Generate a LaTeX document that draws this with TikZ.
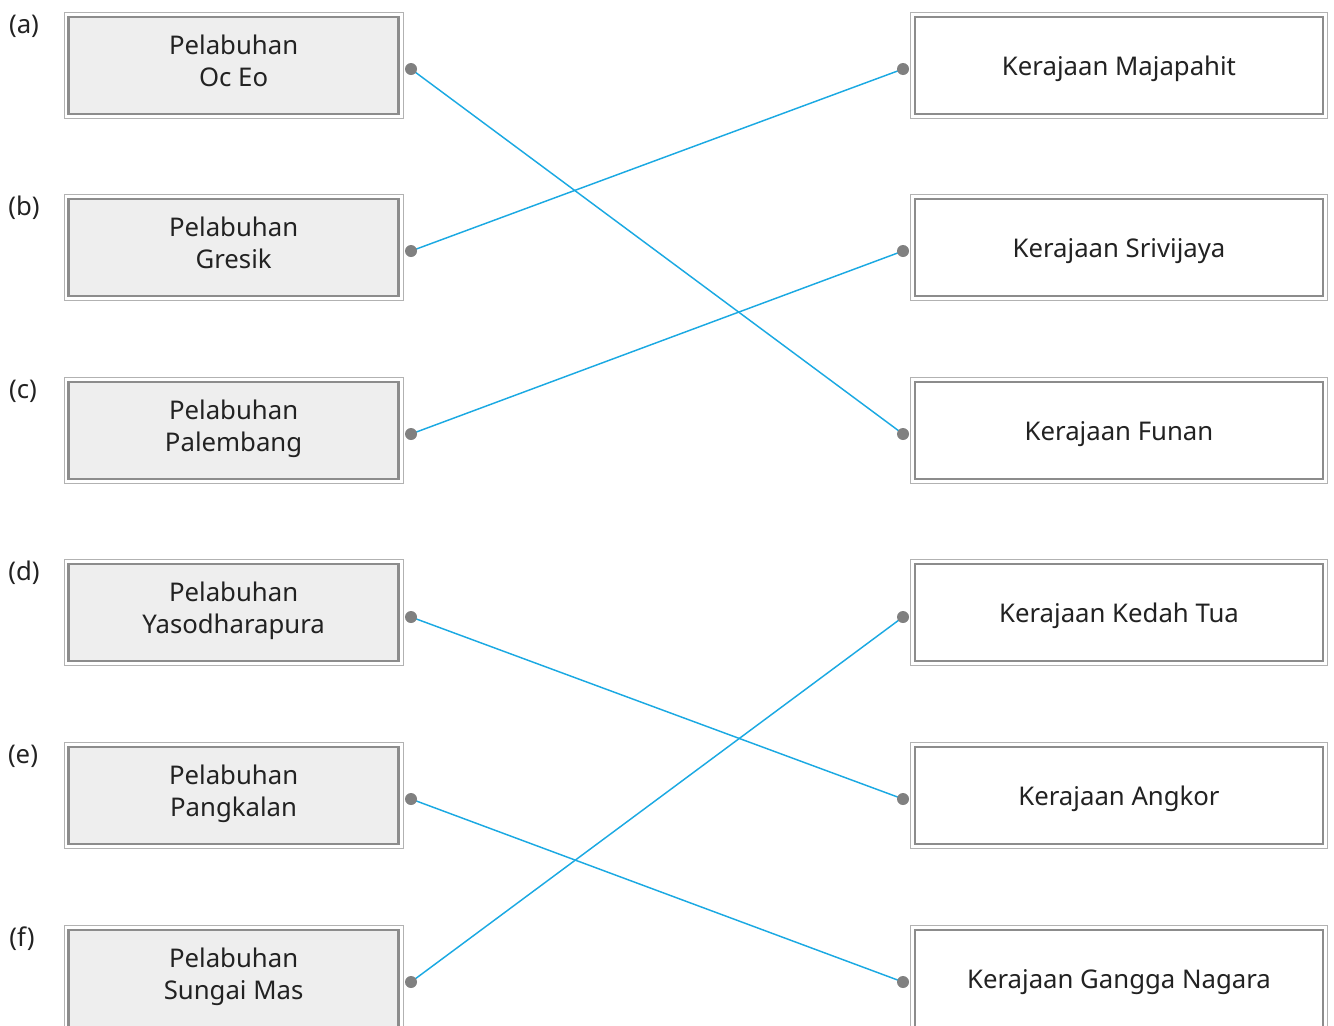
\documentclass[tikz,border=0pt]{standalone}
\usepackage{fontspec}
\setmainfont{Noto Sans}
\usetikzlibrary{calc,backgrounds}
\definecolor{linkc}{RGB}{27,169,226}
\definecolor{rimc}{RGB}{140,140,140}
\definecolor{rimlightc}{RGB}{178,178,178}
\definecolor{dotc}{RGB}{128,128,128}
\definecolor{portc}{RGB}{238,238,238}
\definecolor{textc}{RGB}{34,34,34}

\begin{document}
\begin{tikzpicture}[x=0.75pt, y=-0.75pt,
  rim/.style={append after command={\pgfextra{
      \draw[rimlightc, line width=0.75pt]
        ($(\tikzlastnode.north west)+(-2.8,-2.8)$) rectangle ($(\tikzlastnode.south east)+(2.8,2.8)$);}}},
  port/.style={draw=rimc, fill=portc, line width=2.2pt, align=center, text=textc,
               minimum width=248pt, minimum height=72.75pt, inner sep=0pt, text depth=6.5pt,
               font=\fontsize{19.3}{24}\selectfont, rim},
  realm/.style={draw=rimc, fill=white, line width=2.2pt, align=center, text=textc,
                minimum width=306pt, minimum height=72.75pt, inner sep=0pt,
                text height=14.7pt, text depth=0pt,
                font=\fontsize{19.3}{24}\selectfont, rim},
  tag/.style={text=textc, font=\fontsize{19.3}{24}\selectfont, inner sep=0pt},
  dot/.style={circle, fill=dotc, inner sep=0pt, minimum size=9pt},
  link/.style={linkc, line width=1.1pt},
]
\clip (0,0) rectangle (1334,1025);

% letters
\node[tag] (ta) at (24,26) {(a)};
\node[tag] (tb) at (24,208) {(b)};
\node[tag] (tc) at (23,391) {(c)};
\node[tag] (td) at (24,573) {(d)};
\node[tag] (te) at (23,756) {(e)};
\node[tag] (tf) at (22,939) {(f)};

% ports (left column)
\node[port] (pa) at (233.6,65.5) {Pelabuhan\\Oc Eo};
\node[port] (pb) at (233.6,247.5) {Pelabuhan\\Gresik};
\node[port] (pc) at (233.6,430.5) {Pelabuhan\\Palembang};
\node[port] (pd) at (233.6,612.5) {Pelabuhan\\Yasodharapura};
\node[port] (pe) at (233.6,795.5) {Pelabuhan\\Pangkalan};
\node[port] (pf) at (233.6,978.5) {Pelabuhan\\Sungai Mas};

% kingdoms (right column)
\node[realm] (k1) at (1119,65.5) {Kerajaan Majapahit};
\node[realm] (k2) at (1119,247.5) {Kerajaan Srivijaya};
\node[realm] (k3) at (1119,430.5) {Kerajaan Funan};
\node[realm] (k4) at (1119,612.5) {Kerajaan Kedah Tua};
\node[realm] (k5) at (1119,795.5) {Kerajaan Angkor};
\node[realm] (k6) at (1119,978.5) {Kerajaan Gangga Nagara};

% answer dots
\node[dot] (da) at (411,69) {};
\node[dot] (db) at (411,251) {};
\node[dot] (dc) at (411,434) {};
\node[dot] (dd) at (411,617) {};
\node[dot] (de) at (411,799) {};
\node[dot] (df) at (411,982) {};
\node[dot] (d1) at (903,69) {};
\node[dot] (d2) at (903,251) {};
\node[dot] (d3) at (903,434) {};
\node[dot] (d4) at (903,617) {};
\node[dot] (d5) at (903,799) {};
\node[dot] (d6) at (903,982) {};

% matches
\begin{pgfonlayer}{background}
\draw[link] (da.center) -- (d3.center);
\draw[link] (db.center) -- (d1.center);
\draw[link] (dc.center) -- (d2.center);
\draw[link] (dd.center) -- (d5.center);
\draw[link] (de.center) -- (d6.center);
\draw[link] (df.center) -- (d4.center);
\end{pgfonlayer}

\end{tikzpicture}
\end{document}
